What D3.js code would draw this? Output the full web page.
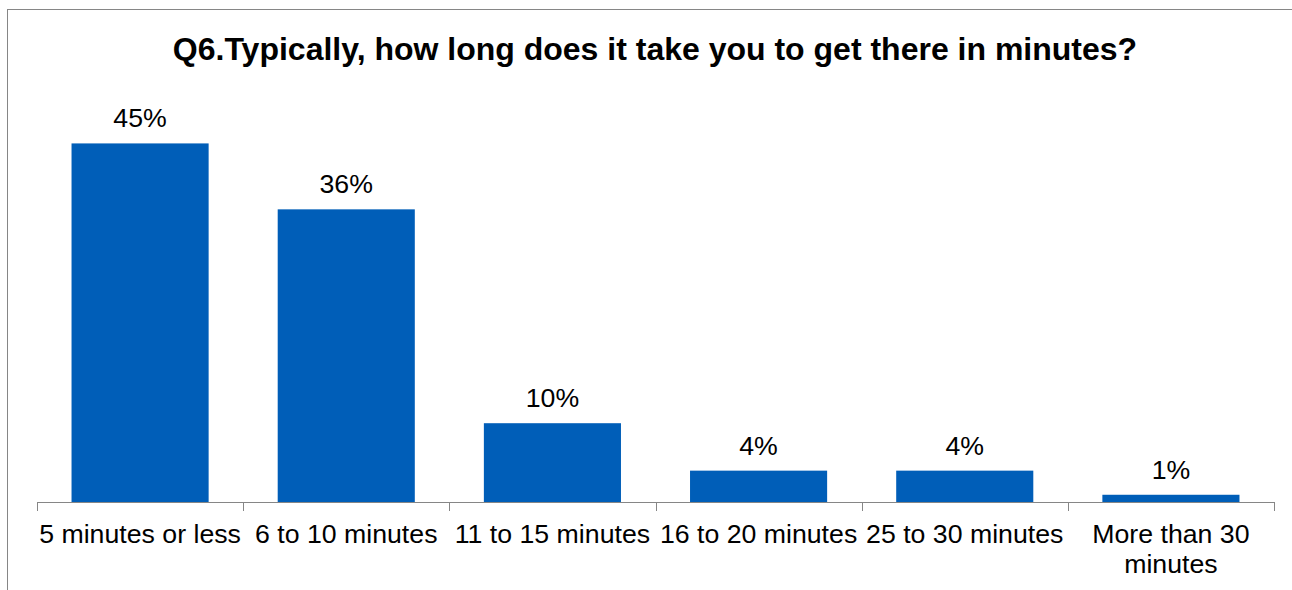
<!DOCTYPE html>
<html>
<head>
<meta charset="utf-8">
<script src="https://cdn.jsdelivr.net/npm/d3@7"></script>
<style>
  html, body { margin: 0; padding: 0; background: #fff; overflow: hidden; }
  svg { display: block; font-family: "Liberation Sans", Arial, sans-serif; }
</style>
</head>
<body>
<svg id="chart" width="1292" height="590"></svg>
<script>
const title = "Q6.Typically, how long does it take you to get there in minutes?";
const categories = ["5 minutes or less", "6 to 10 minutes", "11 to 15 minutes", "16 to 20 minutes", "25 to 30 minutes", "More than 30 minutes"];
const categoryLines = [["5 minutes or less"], ["6 to 10 minutes"], ["11 to 15 minutes"], ["16 to 20 minutes"], ["25 to 30 minutes"], ["More than 30", "minutes"]];
const values = [44.6, 36.4, 9.8, 3.9, 3.9, 0.9];
const yDomain = [0, 50];

const svg = d3.select("#chart");

// frame
svg.append("rect")
  .attr("x", 7.5).attr("y", 9.5)
  .attr("width", 1400).attr("height", 700)
  .attr("fill", "#fff")
  .attr("stroke", "#868686").attr("stroke-width", 1);

// title
svg.append("text")
  .attr("x", 655).attr("y", 60)
  .attr("text-anchor", "middle")
  .attr("font-size", 32).attr("font-weight", "bold")
  .attr("fill", "#000")
  .text(title);

const x = d3.scaleBand()
  .domain(categories)
  .range([37, 1274])
  .paddingInner(0.335)
  .paddingOuter(0.1675);

const y = d3.scaleLinear().domain(yDomain).range([502, 100]);

// bars
svg.append("g").selectAll("rect")
  .data(values)
  .join("rect")
  .attr("x", (d, i) => x(categories[i]))
  .attr("width", x.bandwidth())
  .attr("y", d => y(d))
  .attr("height", d => y(0) - y(d))
  .attr("fill", "#005EB8");

// value labels
const fmt = d3.format(".0f");
svg.append("g").selectAll("text")
  .data(values)
  .join("text")
  .attr("x", (d, i) => x(categories[i]) + x.bandwidth() / 2)
  .attr("y", d => y(d) - 16)
  .attr("text-anchor", "middle")
  .attr("font-size", 26.7)
  .attr("fill", "#000")
  .text(d => fmt(d) + "%");

// x axis line and ticks (at category boundaries)
const axisG = svg.append("g");
axisG.append("line")
  .attr("x1", 37).attr("x2", 1274)
  .attr("y1", 502.5).attr("y2", 502.5)
  .attr("stroke", "#868686").attr("stroke-width", 1);
const step = x.step();
const boundaries = d3.range(categories.length + 1).map(i => 37 + i * step);
axisG.selectAll("line.tick")
  .data(boundaries)
  .join("line")
  .attr("class", "tick")
  .attr("x1", d => Math.round(d) + 0.5).attr("x2", d => Math.round(d) + 0.5)
  .attr("y1", 502).attr("y2", 511)
  .attr("stroke", "#868686").attr("stroke-width", 1);

// category labels
const lab = svg.append("g").selectAll("text")
  .data(categoryLines)
  .join("text")
  .attr("x", (d, i) => x(categories[i]) + x.bandwidth() / 2)
  .attr("y", 543)
  .attr("text-anchor", "middle")
  .attr("font-size", 26.7)
  .attr("fill", "#000");
lab.selectAll("tspan")
  .data(d => d)
  .join("tspan")
  .attr("x", function() { return d3.select(this.parentNode).attr("x"); })
  .attr("dy", (d, i) => i === 0 ? 0 : 30)
  .text(d => d);
</script>
</body>
</html>
